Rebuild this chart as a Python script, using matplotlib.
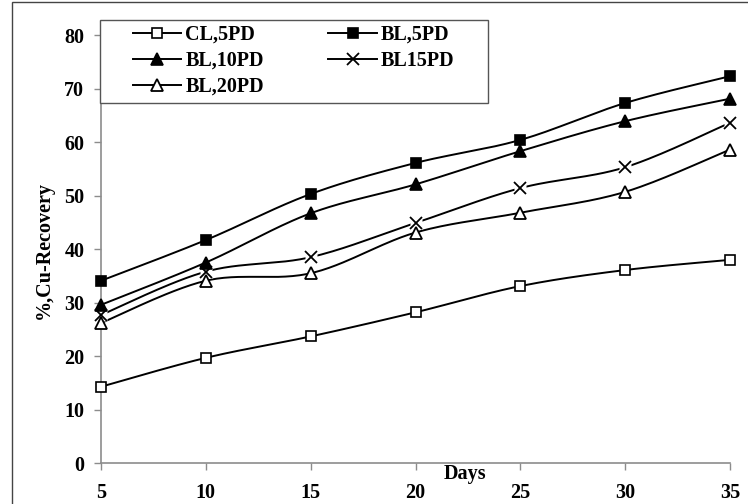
import numpy as np
import matplotlib
matplotlib.use('Agg')
import matplotlib.pyplot as plt
from matplotlib.patches import Rectangle

# Copper recovery (%) against leaching time (days)
days = [5, 10, 15, 20, 25, 30, 35]
cl_5pd = [14.3, 19.7, 23.7, 28.2, 33.1, 36.1, 38.0]
bl_5pd = [34.1, 41.7, 50.3, 56.1, 60.4, 67.3, 72.3]
bl_10pd = [29.6, 37.5, 46.7, 52.1, 58.3, 63.9, 68.1]
bl_15pd = [27.7, 35.8, 38.5, 44.9, 51.4, 55.3, 63.6]
bl_20pd = [26.2, 34.1, 35.5, 43.1, 46.8, 50.7, 58.6]

labels = ['CL,5PD', 'BL,5PD', 'BL,10PD', 'BL15PD', 'BL,20PD']


def smooth(x, y, n=30):
    # spreadsheet-style smoothed line: cubic Bezier through each point pair
    x = np.asarray(x, float)
    y = np.asarray(y, float)
    px = np.concatenate([[x[0]], x, [x[-1]]])
    py = np.concatenate([[y[0]], y, [y[-1]]])
    t = np.linspace(0, 1, n)[:, None]
    xs, ys = [], []
    for i in range(1, len(x)):
        p0 = np.array([px[i], py[i]])
        p3 = np.array([px[i + 1], py[i + 1]])
        p1 = p0 + (p3 - np.array([px[i - 1], py[i - 1]])) / 6
        p2 = p3 - (np.array([px[i + 2], py[i + 2]]) - p0) / 6
        pts = ((1 - t) ** 3) * p0 + 3 * ((1 - t) ** 2) * t * p1 + 3 * (1 - t) * t ** 2 * p2 + t ** 3 * p3
        xs.append(pts[:, 0])
        ys.append(pts[:, 1])
    return np.concatenate(xs), np.concatenate(ys)


plt.rcParams['font.family'] = 'Liberation Serif'
plt.rcParams['font.weight'] = 'bold'
FS = 14.5

fig = plt.figure(figsize=(7.48, 5.04), dpi=100)
W, H = 748, 504
ax = fig.add_axes([101 / W, 1 - 463.3 / H, (730 - 101) / W, (463.3 - 35) / H])

styles = [
    (cl_5pd, dict(marker='s', mfc='white', mec='black', ms=7.2, mew=1.2)),
    (bl_5pd, dict(marker='s', mfc='black', mec='black', ms=7.2, mew=1.2)),
    (bl_10pd, dict(marker='^', mfc='black', mec='black', ms=8.5, mew=1.2)),
    (bl_15pd, dict(marker='x', mfc='black', mec='black', ms=8, mew=1.3)),
    (bl_20pd, dict(marker='^', mfc='white', mec='black', ms=8.5, mew=1.3)),
]

handles = []
for (vals, st), lab in zip(styles, labels):
    sx, sy = smooth(days, vals)
    ax.plot(sx, sy, color='black', lw=1.4, zorder=2, clip_on=False)
    if st['marker'] == 'x':
        # white patch under the cross so the line stops short of it
        ax.plot(days, vals, ls='none', marker='s', ms=9, mfc='white', mec='none',
                zorder=3, clip_on=False)
    ax.plot(days, vals, ls='none', zorder=4, clip_on=False, **st)
    h, = ax.plot([], [], color='black', lw=1.4, **st)
    handles.append(h)

ax.set_xlim(5, 35)
ax.set_ylim(0, 80)
ax.set_xticks(days)
ax.set_yticks(range(0, 81, 10))
for s in ['top', 'right']:
    ax.spines[s].set_visible(False)
for s in ['left', 'bottom']:
    ax.spines[s].set_color('#8c8c8c')
    ax.spines[s].set_linewidth(1.2)
ax.tick_params(axis='both', direction='out', length=5, width=1.0, color='#8c8c8c',
               labelsize=FS, pad=7)
ax.tick_params(axis='x', pad=9)
for t in ax.get_xticklabels() + ax.get_yticklabels():
    t.set_fontweight('bold')

fig.text(44 / W, 1 - 250 / H, '%,Cu-Recovery', rotation=90, ha='center', va='center',
         fontsize=FS, fontweight='bold')
fig.text(465 / W, 1 - 474 / H, 'Days', ha='center', va='center',
         fontsize=FS, fontweight='bold')

# legend box
fig.patches.append(Rectangle((100 / W, 1 - 103 / H), 388 / W, 83 / H, transform=fig.transFigure,
                             fill=True, facecolor='white', edgecolor='#555555', lw=1.0, zorder=5))
order = [0, 2, 4, 1, 3]
leg = fig.legend([handles[i] for i in order], [labels[i] for i in order], ncol=2,
                 loc='upper left', bbox_to_anchor=(133 / W, 1 - 25 / H), frameon=False,
                 borderpad=0, borderaxespad=0, handlelength=2.4, handletextpad=0.2,
                 columnspacing=3.2, labelspacing=0.3, prop=dict(size=FS, weight='bold'))
leg.set_zorder(6)

# outer frame of the figure
fig.patches.append(Rectangle((11.5 / W, -0.1), 1.2, 1 - 2.5 / H + 0.1, transform=fig.transFigure,
                             fill=False, edgecolor='#444444', lw=1.0, clip_on=False))

fig.savefig('out.png', dpi=100)
